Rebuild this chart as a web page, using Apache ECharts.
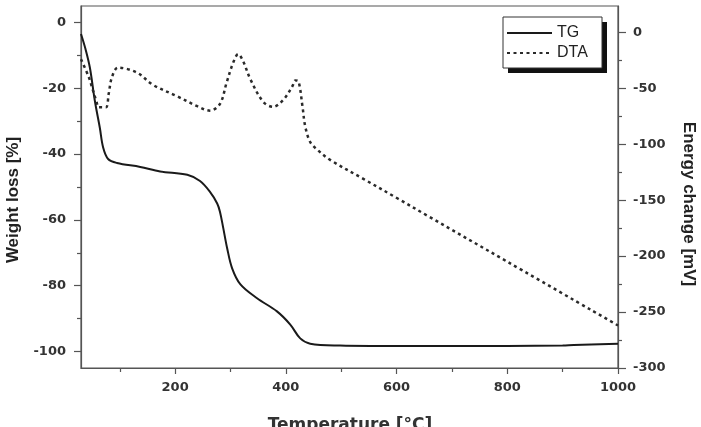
<!DOCTYPE html>
<html>
<head>
<meta charset="utf-8">
<script src="https://cdn.jsdelivr.net/npm/echarts@6/dist/echarts.min.js"></script>
<style>
html, body { margin: 0; padding: 0; background: #fff; }
#chart { width: 701px; height: 427px; }
</style>
</head>
<body>
<div id="chart"></div>
<script>
// TG curve: temperature [°C] -> weight loss [%]
const tgTemp = [30, 38, 46, 55, 64, 70, 79, 95, 137, 173, 222, 245, 263, 276, 281, 287, 294, 303, 318, 348, 384, 408, 426, 444, 498, 553, 700, 900, 920, 1000]
const tgWeight = [-3.5, -8, -13.7, -23.8, -32, -38, -41.5, -42.7, -43.9, -45.3, -46.3, -48.2, -51.5, -55, -57.5, -62.5, -68.6, -74.7, -79.6, -83.8, -87.8, -91.8, -96, -97.6, -98.2, -98.3, -98.3, -98.2, -98, -97.6]

// DTA curve: temperature [°C] -> energy change [mV]
const dtaTemp = [30, 44, 51, 58, 62, 75, 80, 86, 97, 131, 160, 203, 240, 263, 281, 293, 305, 314, 323, 336, 359, 377, 396, 412, 417, 423, 430, 435, 444, 457, 480, 540, 602, 656, 800, 1000]
const dtaEnergy = [-24, -40, -51, -62, -67, -67, -55, -40, -31.6, -36, -47, -57, -66, -70, -64, -45, -27, -19.5, -26, -42, -62, -66.6, -60, -48, -43, -44, -66, -84, -98, -105, -114, -131, -148.5, -164, -205, -262]

// ticks
const tempMajor = [200, 400, 600, 800, 1000]
const tempMinor = [100, 300, 500, 700, 900]
const weightMajor = [-100, -80, -60, -40, -20, 0]
const weightMinor = [-90, -70, -50, -30, -10]
const energyMajor = [-300, -250, -200, -150, -100, -50, 0]
const energyMinor = [-275, -225, -175, -125, -75, -25]

const axisColor = '#555'
const labelStyle = {
  fontFamily: 'DejaVu Sans',
  fontWeight: 'bold',
  fontSize: 13,
  color: '#333',
  formatter: (v) => String(v)
}

const chart = echarts.init(document.getElementById('chart'))

// main axis with labels + a second one only for the short minor ticks
function valueAxis(pos, min, max, major, minor, margin, majorLen) {
  const main = {
    type: 'value',
    position: pos,
    min: min,
    max: max,
    splitLine: { show: false },
    axisLine: { show: true, onZero: false, lineStyle: { color: axisColor, width: 1.2 } },
    axisTick: { show: true, inside: false, length: majorLen, customValues: major, lineStyle: { color: axisColor, width: 1.2 } },
    axisLabel: Object.assign({ customValues: major, margin: margin }, labelStyle)
  }
  const sub = {
    type: 'value',
    position: pos,
    min: min,
    max: max,
    splitLine: { show: false },
    axisLine: { show: false, onZero: false },
    axisTick: { show: true, inside: false, length: 4, customValues: minor, lineStyle: { color: axisColor, width: 1.2 } },
    axisLabel: { show: false }
  }
  return [main, sub]
}

const xAxes = valueAxis('bottom', 30, 1000, tempMajor, tempMinor, 13, 6)
const leftAxes = valueAxis('left', -105, 5, weightMajor, weightMinor, 15, 7)
const rightAxes = valueAxis('right', -300, 23.5, energyMajor, energyMinor, 15, 8)

const option = {
  animation: false,
  backgroundColor: '#fff',
  grid: {
    left: 81,
    right: 83,
    top: 6,
    bottom: 59,
    show: true,
    borderColor: axisColor,
    borderWidth: 1.2,
    outerBoundsMode: 'none'
  },
  legend: {
    orient: 'vertical',
    left: 503,
    top: 17,
    z: 10,
    padding: [8, 10, 7, 3],
    itemGap: 4,
    itemWidth: 45,
    itemHeight: 16,
    backgroundColor: 'transparent',
    borderWidth: 0,
    itemStyle: { color: 'transparent', borderWidth: 0 },
    textStyle: {
      fontFamily: 'Liberation Sans',
      fontSize: 16,
      color: '#222'
    },
    data: ['TG', 'DTA']
  },
  xAxis: xAxes,
  // 0: left main, 1: right main, 2: left minor, 3: right minor
  yAxis: [leftAxes[0], rightAxes[0], leftAxes[1], rightAxes[1]],
  graphic: [
    // legend frame with its black drop shadow
    {
      type: 'rect',
      z: 5,
      shape: { x: 508, y: 22, width: 99, height: 51 },
      style: { fill: '#111' }
    },
    {
      type: 'rect',
      z: 6,
      shape: { x: 503, y: 17, width: 99, height: 51 },
      style: { fill: '#fff', stroke: '#333', lineWidth: 1 }
    },
    {
      type: 'text',
      x: 13,
      y: 200,
      rotation: Math.PI / 2,
      style: {
        text: 'Weight loss [%]',
        font: 'bold 17px "Liberation Sans"',
        fill: '#222',
        align: 'center',
        verticalAlign: 'middle'
      }
    },
    {
      type: 'text',
      x: 689,
      y: 204,
      rotation: -Math.PI / 2,
      style: {
        text: 'Energy change [mV]',
        font: 'bold 17px "Liberation Sans"',
        fill: '#222',
        align: 'center',
        verticalAlign: 'middle'
      }
    },
    {
      type: 'text',
      x: 350,
      y: 426,
      style: {
        text: 'Temperature [°C]',
        font: 'bold 17px "DejaVu Sans"',
        fill: '#333',
        align: 'center',
        verticalAlign: 'middle'
      }
    }
  ],
  series: [
    {
      name: 'TG',
      type: 'line',
      xAxisIndex: 0,
      yAxisIndex: 0,
      symbol: 'none',
      smooth: 0.35,
      lineStyle: { color: '#1a1a1a', width: 2, type: 'solid' },
      itemStyle: { color: '#1a1a1a' },
      data: tgTemp.map((t, i) => [t, tgWeight[i]])
    },
    {
      name: 'DTA',
      type: 'line',
      xAxisIndex: 0,
      yAxisIndex: 1,
      symbol: 'none',
      smooth: 0.35,
      lineStyle: { color: '#2a2a2a', width: 2.5, type: [3, 3.5] },
      itemStyle: { color: '#2a2a2a' },
      data: dtaTemp.map((t, i) => [t, dtaEnergy[i]])
    }
  ]
}
chart.setOption(option)
</script>
</body>
</html>
